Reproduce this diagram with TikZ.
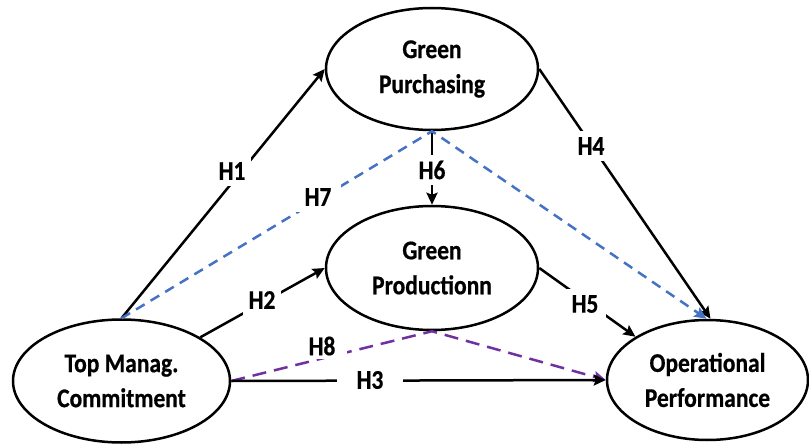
\documentclass[tikz,border=0pt]{standalone}
\usepackage{fontspec}
\usetikzlibrary{shapes.geometric,arrows.meta}
\newfontfamily\lblfont{Carlito}[FakeStretch=0.87,FakeBold=0.6]
\definecolor{hblue}{HTML}{4472C4}
\definecolor{hpurple}{HTML}{7030A0}
\begin{document}
\begin{tikzpicture}[x=1pt,y=-1pt,
  font=\lblfont\bfseries\fontsize{27}{35}\selectfont,
  construct/.style={ellipse,draw,line width=2.5pt,inner sep=0pt,align=center},
  hyp/.style={fill=white,inner xsep=6pt,inner ysep=6pt},
  link/.style={line width=2.5pt,-{Stealth[length=12pt,width=11pt,inset=2pt]}},
  bluedash/.style={link,draw=hblue,dash pattern=on 10pt off 7pt},
  purpdash/.style={link,draw=hpurple,dash pattern=on 14pt off 8pt}]
\useasboundingbox (0,0) rectangle (809,444);
% constructs
\node[construct,minimum width=212pt,minimum height=122pt] (GP) at (432,69) {Green\\Purchasing};
\node[construct,minimum width=212pt,minimum height=124pt] (GD) at (432,268) {Green\\Productionn};
\node[construct,minimum width=217pt,minimum height=123pt] (TM) at (121.5,381) {Top Manag.\\Commitment};
\node[construct,minimum width=201pt,minimum height=120pt] (OP) at (707.5,380) {Operational\\Performance};
\coordinate (opTop) at ([xshift=3pt]OP.north);
\coordinate (opTopB) at ([xshift=-1pt]OP.north);
% paths
\draw[purpdash] (TM.east) -- (GD.south) -- (OP.west);
\draw[link] (TM.north) -- (GP.west);
\draw[link] (TM.29) -- (GD.west);
\draw[link] (TM.east) -- (OP.west);
\draw[link] (GP.south) -- (GD.north);
\draw[link] (GP.east) -- (opTop);
\draw[link] (GD.east) -- (OP.149);
\draw[bluedash] (TM.north) -- (GP.south) -- (opTopB);
% labels
\node[hyp] (h1) at (232,171) {H1};
\node[hyp,inner xsep=10pt] (h7) at (318,197) {H7};
\node[hyp] (h2) at (262,300) {H2};
\node[hyp,inner xsep=12pt,inner ysep=4pt] (h8) at (322,346) {H8};
\node[hyp,inner xsep=20pt,inner ysep=4pt] (h3) at (370,380) {H3};
\node[hyp] (h6) at (432,170) {H6};
\node[hyp] (h4) at (591,146) {H4};
\node[hyp,inner xsep=8pt] (h5) at (585,304) {H5};
\end{tikzpicture}
\end{document}
